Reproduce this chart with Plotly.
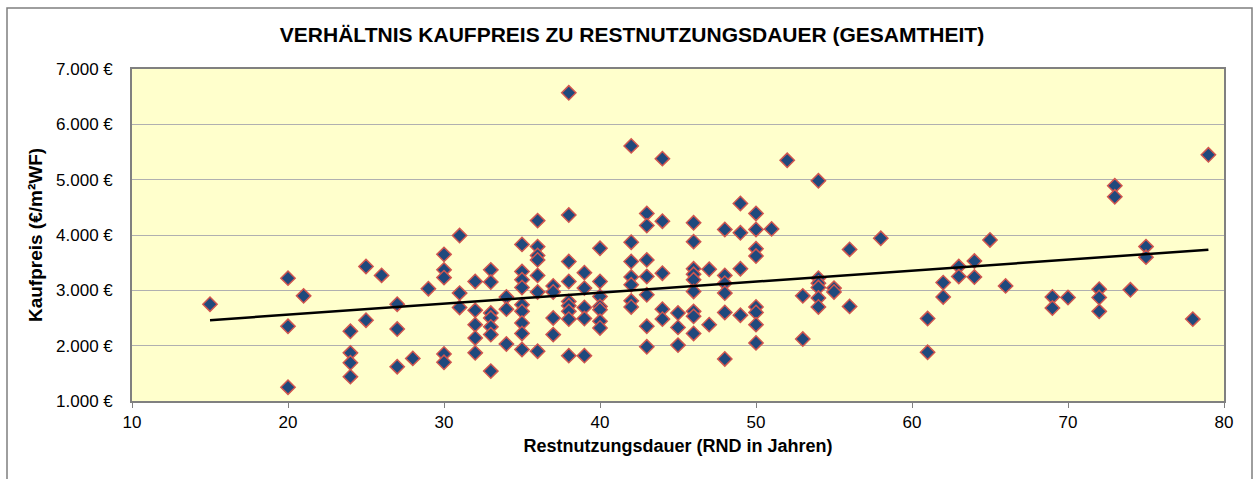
import numpy as np
import plotly.graph_objects as go

title_text = "VERHÄLTNIS KAUFPREIS ZU RESTNUTZUNGSDAUER (GESAMTHEIT)"
x_title = "Restnutzungsdauer (RND in Jahren)"
y_title = "Kaufpreis (€/m²WF)"

# Restnutzungsdauer (years) and Kaufpreis (€/m² WF), grouped per year
rnd = [15,
       20, 20, 20,
       21,
       24, 24, 24, 24,
       25, 25,
       26,
       27, 27, 27,
       28,
       29,
       30, 30, 30, 30, 30,
       31, 31, 31,
       32, 32, 32, 32, 32,
       33, 33, 33, 33, 33, 33, 33,
       34, 34, 34,
       35, 35, 35, 35, 35, 35, 35, 35, 35,
       36, 36, 36, 36, 36, 36, 36,
       37, 37, 37, 37,
       38, 38, 38, 38, 38, 38, 38, 38, 38,
       39, 39, 39, 39, 39,
       40, 40, 40, 40, 40, 40, 40,
       42, 42, 42, 42, 42, 42, 42,
       43, 43, 43, 43, 43, 43, 43,
       44, 44, 44, 44, 44,
       45, 45, 45,
       46, 46, 46, 46, 46, 46, 46, 46, 46,
       47, 47,
       48, 48, 48, 48, 48, 48,
       49, 49, 49, 49,
       50, 50, 50, 50, 50, 50, 50, 50,
       51,
       52,
       53, 53,
       54, 54, 54, 54, 54, 54,
       55, 55,
       56, 56,
       58,
       61, 61,
       62, 62,
       63, 63,
       64, 64,
       65,
       66,
       69, 69,
       70,
       72, 72, 72,
       73, 73,
       74,
       75, 75,
       78,
       79]

kaufpreis = [2750,
             3220, 2350, 1250,
             2900,
             2260, 1870, 1690, 1440,
             3430, 2460,
             3270,
             2750, 2300, 1620,
             1770,
             3030,
             3650, 3370, 3230, 1850, 1700,
             3990, 2950, 2690,
             3160, 2640, 2380, 2140, 1870,
             3370, 3150, 2590, 2500, 2340, 2200, 1540,
             2880, 2660, 2030,
             3830, 3340, 3190, 3050, 2740, 2620, 2410, 2220, 1930,
             4260, 3790, 3630, 3550, 3270, 2970, 1900,
             3080, 2970, 2500, 2200,
             6570, 4360, 3520, 3160, 2800, 2720, 2620, 2480, 1820,
             3320, 3040, 2690, 2490, 1820,
             3760, 3160, 2890, 2710, 2650, 2440, 2320,
             5610, 3870, 3520, 3240, 3100, 2810, 2700,
             4390, 4170, 3550, 3250, 2920, 2350, 1980,
             5380, 4250, 3310, 2660, 2480,
             2590, 2330, 2010,
             4220, 3880, 3390, 3290, 3190, 2980, 2620, 2530, 2220,
             3380, 2380,
             4100, 3270, 3130, 2950, 2600, 1760,
             4570, 4040, 3390, 2550,
             4390, 4100, 3750, 3620, 2700, 2600, 2380, 2050,
             4110,
             5350,
             2900, 2120,
             4980, 3220, 3130, 3050, 2860, 2700,
             3040, 2970,
             3740, 2710,
             3940,
             2490, 1880,
             3140, 2880,
             3430, 3250,
             3530, 3240,
             3910,
             3080,
             2880, 2680,
             2870,
             3020, 2870, 2620,
             4890, 4690,
             3010,
             3790, 3600,
             2480,
             5450]

x_ticks = [10, 20, 30, 40, 50, 60, 70, 80]
y_ticks = [1000, 2000, 3000, 4000, 5000, 6000, 7000]
y_ticklabels = ["1.000 €", "2.000 €", "3.000 €", "4.000 €", "5.000 €", "6.000 €", "7.000 €"]

# linear trend line (least squares) over the data range
slope, intercept = np.polyfit(rnd, kaufpreis, 1)
trend_x = [min(rnd), max(rnd)]
trend_y = [slope * v + intercept for v in trend_x]

W, H = 1255, 479
ml, mr, mt, mb = 132, 31, 69, 78

fig = go.Figure()
fig.add_trace(go.Scatter(
    x=rnd, y=kaufpreis, mode="markers",
    marker=dict(symbol="diamond", size=11, color="#1F497D",
                line=dict(color="#D0554F", width=1.5)),
    showlegend=False, hoverinfo="x+y"))
fig.add_trace(go.Scatter(
    x=trend_x, y=trend_y, mode="lines",
    line=dict(color="black", width=2.5), showlegend=False))

font_family = "Liberation Sans, Arial, sans-serif"
pw = W - ml - mr
ph = H - mt - mb

fig.update_layout(
    width=W, height=H,
    margin=dict(l=ml, r=mr, t=mt, b=mb, autoexpand=False),
    paper_bgcolor="white",
    plot_bgcolor="#FFFFCC",
    font=dict(family=font_family, color="black", size=17),
    title=dict(text="<b>" + title_text + "</b>", x=632 / W, xref="container",
               xanchor="center", y=1 - 35 / H, yanchor="middle",
               font=dict(size=21, family=font_family, color="black")),
    xaxis=dict(range=[10, 80], tickvals=x_ticks, ticks="outside", ticklen=5,
               tickcolor="#808080", showgrid=False, zeroline=False,
               showline=True, linecolor="#808080", linewidth=1.5, mirror=True,
               tickfont=dict(size=17), automargin=False,
               title=dict(text="<b>" + x_title + "</b>", standoff=8,
                          font=dict(size=18))),
    yaxis=dict(range=[1000, 7000], tickvals=y_ticks, ticktext=y_ticklabels,
               ticks="", ticklabelstandoff=14, showgrid=True, gridcolor="#B0B0B0",
               gridwidth=1.3, zeroline=False, showline=True,
               linecolor="#808080", linewidth=1.5, mirror=True,
               tickfont=dict(size=17), automargin=False,
               title=dict(text="<b>" + y_title + "</b>", standoff=8,
                          font=dict(size=19))),
    shapes=[dict(type="rect", xref="paper", yref="paper",
                 x0=(7 - ml) / pw, x1=(1252 - ml) / pw,
                 y0=(H - mb - 485) / ph, y1=(H - mb - 8) / ph,
                 line=dict(color="#7F7F7F", width=1.5), layer="below")],
)

fig.write_html("out.html", config={"displayModeBar": False},
               post_script="document.body.style.margin='0';document.body.style.overflow='hidden';")
